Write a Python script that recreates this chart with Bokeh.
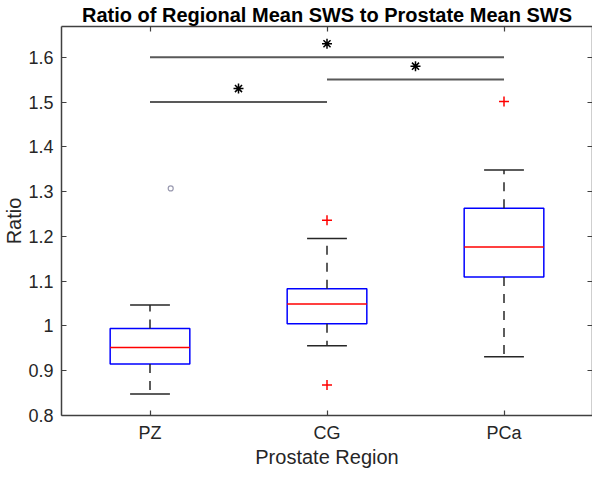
from bokeh.plotting import figure
from bokeh.models import Range1d, FixedTicker, LinearAxis
from bokeh.embed import file_html
from bokeh.resources import INLINE

# ---- data ----
categories = ["PZ", "CG", "PCa"]
positions = [1, 2, 3]
lower_whisker = [0.848, 0.956, 0.931]
q1 = [0.915, 1.005, 1.109]
median = [0.952, 1.049, 1.176]
q3 = [0.994, 1.083, 1.263]
upper_whisker = [1.047, 1.195, 1.348]

outlier_pos = [2, 2, 3]
outlier_val = [1.236, 0.868, 1.501]

stray_pos = [1.117]
stray_val = [1.307]

sig_start = [1, 2, 1]
sig_end = [3, 3, 2]
sig_level = [1.60, 1.55, 1.50]
star_offset = 0.03

y_ticks = [0.8, 0.9, 1.0, 1.1, 1.2, 1.3, 1.4, 1.5, 1.6]
y_tick_labels = ["0.8", "0.9", "1", "1.1", "1.2", "1.3", "1.4", "1.5", "1.6"]

box_width = 0.45
cap_width = 0.225

FONT = "Liberation Sans"
AX = "#404040"

p = figure(width=592, height=470,
           x_range=Range1d(0.5, 3.5), y_range=Range1d(0.8, 1.6686),
           output_backend="svg", toolbar_location=None,
           x_axis_location=None, y_axis_location=None,
           min_border_left=0, min_border_right=0,
           min_border_top=0, min_border_bottom=0,
           title="Ratio of Regional Mean SWS to Prostate Mean SWS")
p.title.align = "center"
p.title.text_font = FONT
p.title.text_font_size = "20px"
p.title.text_font_style = "bold"
p.title.text_color = "black"
p.title.standoff = 2
p.outline_line_color = None
p.xgrid.visible = False
p.ygrid.visible = False

bottom_ax = LinearAxis()
left_ax = LinearAxis()
top_ax = LinearAxis()
right_ax = LinearAxis()
p.add_layout(bottom_ax, "below")
p.add_layout(left_ax, "left")
p.add_layout(top_ax, "above")
p.add_layout(right_ax, "right")

bottom_ax.ticker = FixedTicker(ticks=positions)
bottom_ax.major_label_overrides = {pos: c for pos, c in zip(positions, categories)}
top_ax.ticker = FixedTicker(ticks=positions)
top_ax.major_label_overrides = {pos: "" for pos in positions}
left_ax.ticker = FixedTicker(ticks=y_ticks)
left_ax.major_label_overrides = {t: s for t, s in zip(y_ticks, y_tick_labels)}
right_ax.ticker = FixedTicker(ticks=y_ticks)
right_ax.major_label_overrides = {t: "" for t in y_ticks}

for ax in [bottom_ax, left_ax, top_ax, right_ax]:
    ax.axis_line_color = AX
    ax.axis_line_width = 1.5
    ax.major_tick_line_color = AX
    ax.major_tick_line_width = 1.2
    ax.major_tick_in = 5
    ax.major_tick_out = 0
    ax.minor_tick_line_color = None
    ax.major_label_text_font = FONT
    ax.major_label_text_font_size = "18px"
    ax.major_label_text_color = "#262626"
    ax.axis_label_text_font = FONT
    ax.axis_label_text_font_size = "20px"
    ax.axis_label_text_font_style = "normal"
    ax.axis_label_text_color = "#262626"

for ax in [top_ax, right_ax]:
    ax.major_label_text_font_size = "1px"
    ax.major_label_text_color = None
    ax.major_label_standoff = 0

bottom_ax.axis_label = "Prostate Region"
bottom_ax.major_label_standoff = 7
bottom_ax.axis_label_standoff = 0
left_ax.axis_label = "Ratio"
left_ax.major_label_standoff = 8
left_ax.axis_label_standoff = 0

# boxes
p.quad(left=[x - box_width / 2 for x in positions],
       right=[x + box_width / 2 for x in positions],
       bottom=q1, top=q3, fill_color=None,
       line_color="#0000ff", line_width=1.5)
# whiskers
p.segment(x0=positions, y0=q3, x1=positions, y1=upper_whisker,
          line_color="#262626", line_width=1.5, line_dash="9 8")
p.segment(x0=positions, y0=q1, x1=positions, y1=lower_whisker,
          line_color="#262626", line_width=1.5, line_dash="9 8")
# caps
for w in [upper_whisker, lower_whisker]:
    p.segment(x0=[x - cap_width / 2 for x in positions], y0=w,
              x1=[x + cap_width / 2 for x in positions], y1=w,
              line_color="#262626", line_width=1.5)
# medians
p.segment(x0=[x - box_width / 2 for x in positions], y0=median,
          x1=[x + box_width / 2 for x in positions], y1=median,
          line_color="#ff0000", line_width=1.5)
# outliers
p.scatter(x=outlier_pos, y=outlier_val, marker="cross", size=10,
          line_color="#ff0000", line_width=1.5)
p.scatter(x=stray_pos, y=stray_val, marker="circle", size=5,
          fill_color=None, line_color="#9a9ab0", line_width=1.2)

# significance bars
p.segment(x0=sig_start, y0=sig_level, x1=sig_end, y1=sig_level,
          line_color="#595959", line_width=2)
p.scatter(x=[(a + b) / 2 for a, b in zip(sig_start, sig_end)],
          y=[l + star_offset for l in sig_level],
          marker="asterisk", size=10, line_color="black", line_width=1.5)

open("out.html", "w").write(file_html(p, INLINE))
